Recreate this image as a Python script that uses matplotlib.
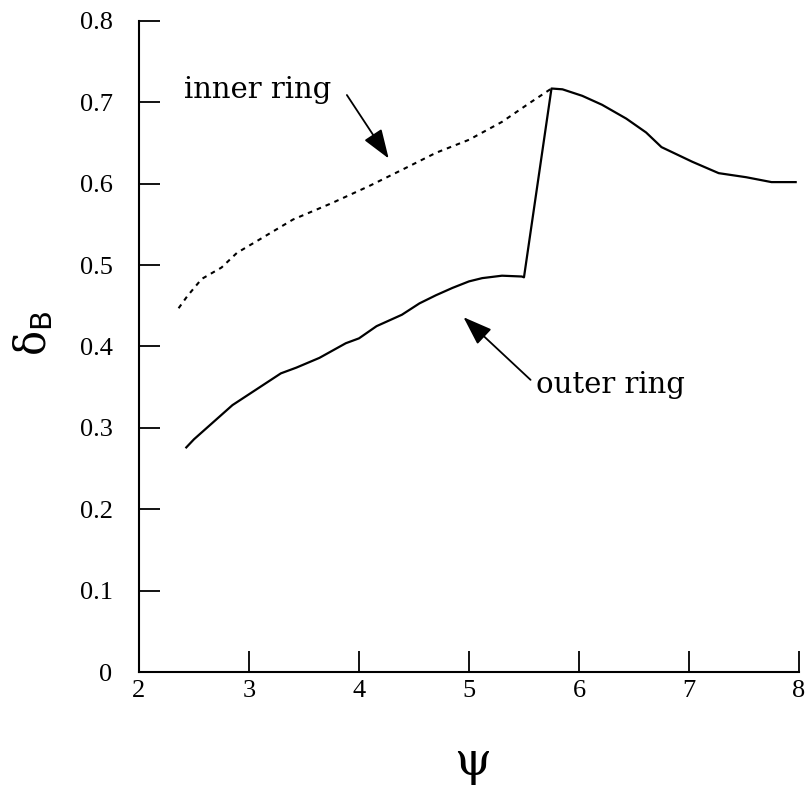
import matplotlib
matplotlib.use("Agg")
import matplotlib.pyplot as plt

# Outer ring: rises, plateaus near 0.49, jumps to the peak, then decays
outer_psi = [2.43, 2.50, 2.85, 3.29, 3.43, 3.64, 3.88, 4.00, 4.16, 4.39, 4.55,
             4.70, 4.85, 5.00, 5.12, 5.30, 5.48, 5.50, 5.75, 5.85, 6.03, 6.21,
             6.43, 6.61, 6.75, 7.03, 7.27, 7.52, 7.75, 7.97]
outer_delta = [0.276, 0.286, 0.328, 0.367, 0.374, 0.386, 0.404, 0.410, 0.425,
               0.439, 0.453, 0.463, 0.472, 0.480, 0.484, 0.487, 0.486, 0.485,
               0.717, 0.716, 0.708, 0.697, 0.680, 0.663, 0.645, 0.627, 0.613,
               0.608, 0.602, 0.602]

# Inner ring: dotted curve up to the shared peak
inner_psi = [2.36, 2.44, 2.57, 2.75, 2.89, 3.09, 3.40, 3.75, 4.09, 4.39, 4.70,
             5.00, 5.30, 5.56, 5.75]
inner_delta = [0.447, 0.462, 0.483, 0.497, 0.515, 0.531, 0.556, 0.576, 0.597,
               0.617, 0.638, 0.654, 0.676, 0.700, 0.717]

x_ticks = [2, 3, 4, 5, 6, 7, 8]
y_ticks = [0, 0.1, 0.2, 0.3, 0.4, 0.5, 0.6, 0.7, 0.8]
y_tick_labels = ["0", "0.1", "0.2", "0.3", "0.4", "0.5", "0.6", "0.7", "0.8"]

plt.rcParams["mathtext.fontset"] = "dejavuserif"

fig = plt.figure(figsize=(8.09, 7.91), dpi=100)
ax = fig.add_axes([0.1718, 0.1504, 0.8158, 0.8231])

ax.plot(outer_psi, outer_delta, color="black", lw=1.6, solid_joinstyle="round")
ax.plot(inner_psi, inner_delta, color="black", lw=1.5,
        linestyle=(0, (2.2, 2.4)))

ax.set_xlim(2, 8)
ax.set_ylim(0, 0.8)

for side in ("top", "right"):
    ax.spines[side].set_visible(False)
for side in ("left", "bottom"):
    ax.spines[side].set_linewidth(1.5)

ax.set_xticks(x_ticks)
ax.set_xticklabels([str(v) for v in x_ticks])
ax.set_yticks(y_ticks)
ax.set_yticklabels(y_tick_labels)
ax.tick_params(axis="both", direction="in", length=15, width=1.3,
               labelsize=19)
ax.tick_params(axis="y", pad=19)
ax.tick_params(axis="x", pad=6)
for lbl in ax.get_xticklabels() + ax.get_yticklabels():
    lbl.set_fontfamily("Liberation Serif")

ax.set_xlabel("ψ", fontsize=34, family="DejaVu Serif", va="center")
ax.xaxis.set_label_coords(0.505, -0.138)
ax.set_ylabel(r"δ$_{\mathsf{B}}$", fontsize=30, family="DejaVu Serif",
              va="center")
ax.yaxis.set_label_coords(-0.16, 0.52)

arrow_kw = dict(arrowstyle="-|>,head_length=0.9,head_width=0.32",
                color="black", lw=1.3, mutation_scale=20,
                shrinkA=0, shrinkB=0)

ax.text(2.41, 0.705, "inner ring", fontsize=21, family="DejaVu Serif",
        ha="left", va="baseline")
ax.annotate("", xy=(4.27, 0.631), xytext=(3.89, 0.709), arrowprops=arrow_kw)

ax.text(5.61, 0.343, "outer ring", fontsize=21, family="DejaVu Serif",
        ha="left", va="baseline")
ax.annotate("", xy=(4.95, 0.436), xytext=(5.56, 0.359), arrowprops=arrow_kw)

fig.savefig("out.png", dpi=100)
